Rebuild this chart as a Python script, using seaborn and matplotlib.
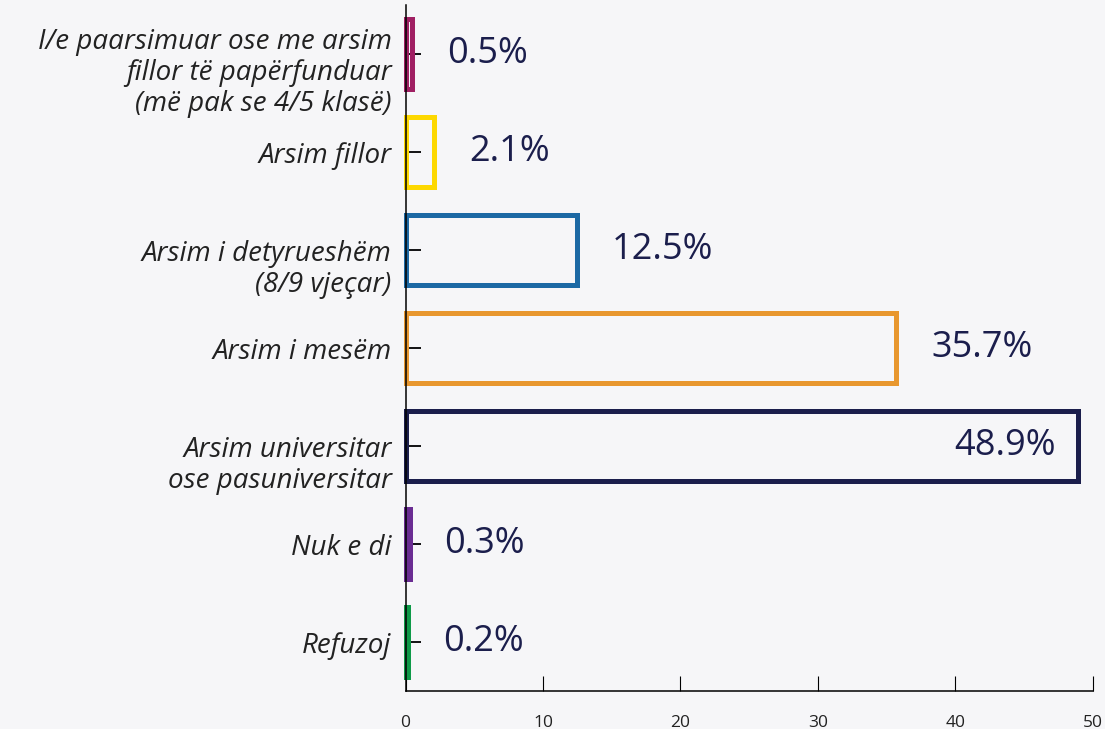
import matplotlib.pyplot as plt
import matplotlib.transforms as mtransforms
import seaborn as sns

# Data
categories = [
    'I/e paarsimuar ose me arsim\nfillor të papërfunduar\n(më pak se 4/5 klasë)',
    'Arsim fillor',
    'Arsim i detyrueshëm\n(8/9 vjeçar)',
    'Arsim i mesëm',
    'Arsim universitar\nose pasuniversitar',
    'Nuk e di',
    'Refuzoj',
]
values = [0.5, 2.1, 12.5, 35.7, 48.9, 0.3, 0.2]
colors = ['#A01F63', '#FDD800', '#1C69A4', '#E8972F', '#1B1E4C', '#6A2C92', '#0E9A48']
x_ticks = [0, 10, 20, 30, 40, 50]

bg = '#F6F6F8'
navy = '#1B1E4C'

sns.set_style('white')
plt.rcParams['font.family'] = ['Open Sans', 'DejaVu Sans']

fig = plt.figure(figsize=(11.05, 7.29), dpi=100, facecolor=bg)
ax = fig.add_axes([0.367, 0.052, 0.622, 0.941])
ax.set_facecolor(bg)

sns.barplot(
    x=values,
    y=categories,
    hue=categories,
    palette=colors,
    fill=False,
    linewidth=3.6,
    width=0.71,
    legend=False,
    orient='h',
    ax=ax,
)
for p in ax.patches:
    p.set_clip_on(False)

ax.set_xlim(0, 50)
ax.set_ylim(6.5, -0.5)
ax.set_xticks(x_ticks)
ax.set_xlabel('')
ax.set_ylabel('')

for s in ['top', 'right']:
    ax.spines[s].set_visible(False)
for s in ['left', 'bottom']:
    ax.spines[s].set_color('black')
    ax.spines[s].set_linewidth(1.1)

ax.tick_params(axis='x', bottom=True, direction='in', length=11, width=0.8, color='black',
               labelsize=12.5, labelcolor='#222222', pad=17)
ax.tick_params(axis='y', left=True, direction='in', length=11, width=1.3, color='black',
               labelsize=20, labelcolor='#222222', pad=10)
for lbl in ax.get_yticklabels():
    lbl.set_fontstyle('italic')
    lbl.set_multialignment('right')
    lbl.set_linespacing(1.15)
    if '\n' in lbl.get_text():
        shift = mtransforms.ScaledTranslation(0, -14 / 100, fig.dpi_scale_trans)
        lbl.set_transform(lbl.get_transform() + shift)

# value labels
for i, v in enumerate(values):
    if v > 45:
        ax.annotate(f'{v}%', (v, i), xytext=(-16, 0), textcoords='offset points',
                    ha='right', va='center', fontsize=26, color=navy)
    else:
        ax.annotate(f'{v}%', (v, i), xytext=(25, 0), textcoords='offset points',
                    ha='left', va='center', fontsize=26, color=navy)

fig.savefig('out.png', dpi=100, facecolor=bg)
